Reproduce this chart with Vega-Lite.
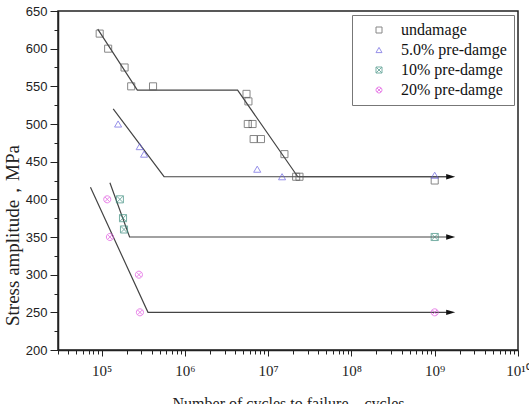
{
  "$schema": "https://vega.github.io/schema/vega-lite/v6.json",
  "autosize": "none",
  "width": 460,
  "height": 339,
  "padding": {"left": 58, "top": 11, "right": 11, "bottom": 54},
  "background": "white",
  "config": {
    "view": {"stroke": "#222", "strokeWidth": 1.5},
    "axis": {"domainColor": "#222", "domainWidth": 1.5, "tickColor": "#222", "grid": false, "labelColor": "#222", "titleColor": "#222", "titleFontWeight": "normal"},
    "legend": {
      "orient": "none", "legendX": 294, "legendY": 4,
      "strokeColor": "#777", "padding": 7, "symbolOffset": 12,
      "symbolSize": 36, "symbolStrokeWidth": 1,
      "labelFont": "Liberation Serif", "labelFontSize": 16, "labelColor": "#111",
      "labelOffset": 14, "rowPadding": 4, "fillColor": "white"
    }
  },
  "datasets": {
    "pts": [
      {"N": 95000, "S": 620, "series": "undamage"},
      {"N": 120000, "S": 600, "series": "undamage"},
      {"N": 189000, "S": 575, "series": "undamage"},
      {"N": 227000, "S": 550, "series": "undamage"},
      {"N": 415000, "S": 550, "series": "undamage"},
      {"N": 5500000, "S": 540, "series": "undamage"},
      {"N": 5800000, "S": 530, "series": "undamage"},
      {"N": 5700000, "S": 500, "series": "undamage"},
      {"N": 6500000, "S": 500, "series": "undamage"},
      {"N": 6700000, "S": 480, "series": "undamage"},
      {"N": 8200000, "S": 480, "series": "undamage"},
      {"N": 15700000, "S": 460, "series": "undamage"},
      {"N": 21700000, "S": 430, "series": "undamage"},
      {"N": 23800000, "S": 430, "series": "undamage"},
      {"N": 1000000000, "S": 425, "series": "undamage"},
      {"N": 158000, "S": 500, "series": "5.0% pre-damge"},
      {"N": 287000, "S": 470, "series": "5.0% pre-damge"},
      {"N": 324000, "S": 460, "series": "5.0% pre-damge"},
      {"N": 7400000, "S": 440, "series": "5.0% pre-damge"},
      {"N": 14700000, "S": 430, "series": "5.0% pre-damge"},
      {"N": 1000000000, "S": 432, "series": "5.0% pre-damge"},
      {"N": 166000, "S": 400, "series": "10% pre-damge"},
      {"N": 181000, "S": 375, "series": "10% pre-damge"},
      {"N": 186000, "S": 360, "series": "10% pre-damge"},
      {"N": 1000000000, "S": 350, "series": "10% pre-damge"},
      {"N": 117000, "S": 400, "series": "20% pre-damge"},
      {"N": 126000, "S": 350, "series": "20% pre-damge"},
      {"N": 281000, "S": 300, "series": "20% pre-damge"},
      {"N": 289000, "S": 250, "series": "20% pre-damge"},
      {"N": 1000000000, "S": 250, "series": "20% pre-damge"}
    ],
    "lines": [
      {"line": "u", "o": 1, "N": 90000, "S": 626},
      {"line": "u", "o": 2, "N": 269000, "S": 545},
      {"line": "u", "o": 3, "N": 4300000, "S": 545},
      {"line": "u", "o": 4, "N": 22700000, "S": 430},
      {"line": "u", "o": 5, "N": 1500000000, "S": 430},
      {"line": "a", "o": 1, "N": 138000, "S": 520},
      {"line": "a", "o": 2, "N": 563000, "S": 430},
      {"line": "a", "o": 3, "N": 1500000000, "S": 430},
      {"line": "b", "o": 1, "N": 126000, "S": 422},
      {"line": "b", "o": 2, "N": 217000, "S": 350},
      {"line": "b", "o": 3, "N": 1500000000, "S": 350},
      {"line": "c", "o": 1, "N": 73600, "S": 416},
      {"line": "c", "o": 2, "N": 361000, "S": 250},
      {"line": "c", "o": 3, "N": 1500000000, "S": 250}
    ],
    "arrows": [
      {"N": 1556000000, "S": 430},
      {"N": 1556000000, "S": 350},
      {"N": 1556000000, "S": 250}
    ]
  },
  "encoding": {
    "x": {
      "field": "N", "type": "quantitative",
      "scale": {"type": "log", "domain": [30000, 10000000000]},
      "axis": {
        "values": [30000, 40000, 50000, 60000, 70000, 80000, 90000, 100000, 200000, 300000, 400000, 500000, 600000, 700000, 800000, 900000, 1000000, 2000000, 3000000, 4000000, 5000000, 6000000, 7000000, 8000000, 9000000, 10000000, 20000000, 30000000, 40000000, 50000000, 60000000, 70000000, 80000000, 90000000, 100000000, 200000000, 300000000, 400000000, 500000000, 600000000, 700000000, 800000000, 900000000, 1000000000, 2000000000, 3000000000, 4000000000, 5000000000, 6000000000, 7000000000, 8000000000, 9000000000, 10000000000],
        "labelExpr": "abs(log(datum.value)/LN10 - round(log(datum.value)/LN10)) < 0.001 ? '10' + ['⁰','¹','²','³','⁴','⁵','⁶','⁷','⁸','⁹','¹⁰'][round(log(datum.value)/LN10)] : ''",
        "tickSize": {"condition": {"test": "abs(log(datum.value)/LN10 - round(log(datum.value)/LN10)) < 0.001", "value": 6}, "value": 4},
        "labelFont": "Liberation Serif", "labelFontSize": 15, "labelPadding": 7,
        "labelFlush": false, "labelOverlap": false,
        "title": "Number of cycles to failure，cycles",
        "titleFont": "Liberation Serif", "titleFontSize": 16, "titlePadding": 17
      }
    },
    "y": {
      "field": "S", "type": "quantitative",
      "scale": {"domain": [200, 650], "nice": false, "zero": false},
      "axis": {
        "values": [200, 225, 250, 275, 300, 325, 350, 375, 400, 425, 450, 475, 500, 525, 550, 575, 600, 625, 650],
        "labelExpr": "datum.value % 50 == 0 ? datum.label : ''",
        "tickSize": {"condition": {"test": "datum.value % 50 != 0", "value": 4}, "value": 8},
        "labelFont": "Liberation Sans", "labelFontSize": 13, "labelPadding": 3,
        "labelFlush": false, "labelOverlap": false,
        "title": "Stress amplitude，MPa",
        "titleFont": "Liberation Serif", "titleFontSize": 19,
        "titleAngle": -90, "titleAlign": "center", "titleBaseline": "middle",
        "titleX": -46, "titleY": 224
      }
    }
  },
  "layer": [
    {
      "data": {"name": "lines"},
      "mark": {"type": "line", "color": "#444", "strokeWidth": 1.2},
      "encoding": {
        "detail": {"field": "line"},
        "order": {"field": "o"}
      }
    },
    {
      "data": {"name": "pts"},
      "mark": {"type": "point", "filled": false, "strokeWidth": 1, "size": 50},
      "encoding": {
        "color": {
          "field": "series", "type": "nominal", "title": null,
          "scale": {"domain": ["undamage", "5.0% pre-damge", "10% pre-damge", "20% pre-damge"], "range": ["#555555", "#6a62e0", "#3f8f80", "#e050e0"]}
        },
        "shape": {
          "field": "series", "type": "nominal", "title": null,
          "scale": {"domain": ["undamage", "5.0% pre-damge", "10% pre-damge", "20% pre-damge"], "range": ["square", "triangle-up", "M-1,-1H1V1H-1ZM-1,-1L1,1M1,-1L-1,1", "M1,0A1,1,0,1,1,-1,0A1,1,0,1,1,1,0ZM-0.7,-0.7L0.7,0.7M0.7,-0.7L-0.7,0.7"]}
        }
      }
    },
    {
      "data": {"name": "arrows"},
      "mark": {"type": "point", "filled": true, "color": "#111", "size": 81, "shape": "M-1,-0.6L1,0L-1,0.6Z", "opacity": 1}
    }
  ]
}
